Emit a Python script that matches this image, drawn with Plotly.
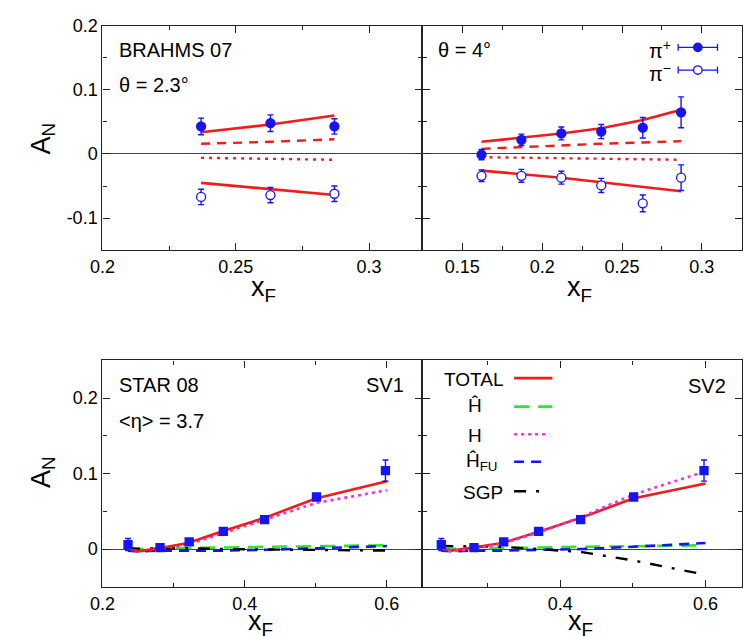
import plotly.graph_objects as go

W, H = 745, 637

# ---------------- data ----------------
# BRAHMS 07, theta = 2.3 deg
b23_x = [0.237, 0.263, 0.287]
b23_pip = [0.043, 0.048, 0.043]
b23_pip_err = [0.013, 0.013, 0.012]
b23_pim = [-0.067, -0.064, -0.062]
b23_pim_err = [0.012, 0.012, 0.012]
b23_tot_p = [0.034, 0.046, 0.060]
b23_dash = [0.016, 0.019, 0.023]
b23_dot = [-0.006, -0.0075, -0.009]
b23_tot_m = [-0.045, -0.055, -0.064]

# BRAHMS 07, theta = 4 deg
b4_x = [0.162, 0.187, 0.212, 0.237, 0.263, 0.287]
b4_pip = [-0.001, 0.022, 0.032, 0.035, 0.041, 0.065]
b4_pip_err = [0.008, 0.009, 0.010, 0.011, 0.016, 0.024]
b4_pim = [-0.034, -0.034, -0.037, -0.049, -0.077, -0.037]
b4_pim_err = [0.009, 0.010, 0.010, 0.011, 0.013, 0.020]
b4_tot_p = [0.019, 0.025, 0.032, 0.040, 0.053, 0.069]
b4_dash = [0.008, 0.011, 0.014, 0.016, 0.018, 0.020]
b4_dot = [-0.005, -0.006, -0.007, -0.0075, -0.008, -0.009]
b4_tot_m = [-0.026, -0.031, -0.037, -0.044, -0.051, -0.058]

# STAR 08, <eta> = 3.7
star_x = [0.236, 0.281, 0.322, 0.370, 0.428, 0.501, 0.598]
star_y = [0.006, 0.002, 0.0095, 0.0235, 0.039, 0.069, 0.104]
star_err = [0.008, 0.002, 0.002, 0.002, 0.002, 0.002, 0.014]

curve_x = [0.236, 0.25, 0.28, 0.32, 0.37, 0.43, 0.50, 0.60]
sv1_total = [0.0, -0.003, 0.001, 0.008, 0.024, 0.042, 0.067, 0.090]
sv1_H = [0.0, -0.003, 0.0, 0.006, 0.021, 0.039, 0.061, 0.078]
sv1_Hhat = [0.0, 0.0, 0.001, 0.001, 0.002, 0.003, 0.004, 0.005]
sv1_HFU = [-0.002, -0.003, -0.002, -0.002, -0.002, -0.001, 0.001, 0.004]
sv1_SGP = [0.001, 0.0005, 0.001, 0.001, 0.0, -0.0005, -0.001, -0.002]

sv2_total = [0.0, -0.002, 0.002, 0.008, 0.023, 0.042, 0.067, 0.087]
sv2_H = [0.0, -0.003, 0.0, 0.007, 0.022, 0.043, 0.072, 0.103]
sv2_Hhat = [0.0, 0.0, 0.001, 0.001, 0.002, 0.003, 0.004, 0.005]
sv2_HFU = [-0.002, -0.003, -0.002, -0.002, -0.001, 0.0, 0.003, 0.008]
sv2_SGP = [0.004, 0.004, 0.003, 0.003, 0.0, -0.004, -0.015, -0.034]

# ---------------- styles ----------------
RED = "#f01c1c"
BLUE = "#1414f5"
GREEN = "#2ee62e"
MAG = "#f030f0"
BLACK = "#000000"
FONT = "Liberation Sans, Arial, Helvetica, sans-serif"

STY_TOTAL = dict(color=RED, width=2.6)
STY_DASH_R = dict(color=RED, width=2.4, dash="9px,7px")
STY_DOT_R = dict(color=RED, width=2.4, dash="3px,5px")
STY_HHAT = dict(color=GREEN, width=2.6, dash="15px,9px")
STY_H = dict(color=MAG, width=2.6, dash="3px,4px")
STY_HFU = dict(color=BLUE, width=2.6, dash="10px,7px")
STY_SGP = dict(color=BLACK, width=2.4, dash="12px,10px,3px,10px")

fig = go.Figure()


def line(x, y, sty, ax):
    fig.add_trace(go.Scatter(x=x, y=y, mode="lines", line=sty,
                             xaxis=ax[0], yaxis=ax[1], showlegend=False,
                             hoverinfo="skip"))


def pts(x, y, err, ax, symbol, filled=True, size=9):
    fig.add_trace(go.Scatter(
        x=x, y=y, mode="markers",
        marker=dict(symbol=symbol, size=size,
                    color=BLUE if filled else "white",
                    line=dict(color=BLUE, width=1.3)),
        error_y=dict(type="data", array=err, color=BLUE, thickness=1.4, width=3),
        xaxis=ax[0], yaxis=ax[1], showlegend=False))


A1 = ("x", "y")
A2 = ("x2", "y2")
A3 = ("x3", "y3")
A4 = ("x4", "y4")

# top-left
line(b23_x, b23_tot_p, STY_TOTAL, A1)
line(b23_x, b23_dash, STY_DASH_R, A1)
line(b23_x, b23_dot, STY_DOT_R, A1)
line(b23_x, b23_tot_m, STY_TOTAL, A1)
pts(b23_x, b23_pip, b23_pip_err, A1, "circle", True)
pts(b23_x, b23_pim, b23_pim_err, A1, "circle", False)

# top-right
line(b4_x, b4_tot_p, STY_TOTAL, A2)
line(b4_x, b4_dash, STY_DASH_R, A2)
line(b4_x, b4_dot, STY_DOT_R, A2)
line(b4_x, b4_tot_m, STY_TOTAL, A2)
pts(b4_x, b4_pip, b4_pip_err, A2, "circle", True)
pts(b4_x, b4_pim, b4_pim_err, A2, "circle", False)

# bottom-left (SV1)
for ys, st in [(sv1_Hhat, STY_HHAT), (sv1_HFU, STY_HFU), (sv1_SGP, STY_SGP),
               (sv1_H, STY_H), (sv1_total, STY_TOTAL)]:
    line(curve_x, ys, st, A3)
pts(star_x, star_y, star_err, A3, "square", True, 8)

# bottom-right (SV2)
for ys, st in [(sv2_Hhat, STY_HHAT), (sv2_HFU, STY_HFU), (sv2_SGP, STY_SGP),
               (sv2_total, STY_TOTAL), (sv2_H, STY_H)]:
    line(curve_x, ys, st, A4)
pts(star_x, star_y, star_err, A4, "square", True, 8)


# ---------------- axes ----------------
def px_x(p):
    return p / W


def px_y(p):
    return 1 - p / H


XL = [px_x(91), px_x(416.7)]
XR = [px_x(416.7), px_x(741.7)]
YT = [px_y(244), px_y(16)]
YB = [px_y(586), px_y(356)]

common = dict(showline=True, linecolor="#222", linewidth=1.3, mirror="allticks",
              ticks="inside", ticklen=7, tickwidth=1, tickcolor="#222",
              showgrid=False, zeroline=False,
              tickfont=dict(family=FONT, size=18, color="black"),
              minor=dict(ticks="inside", ticklen=4, tickwidth=1, tickcolor="#222",
                         showgrid=False))


def xax(domain, rng, vals, anchor, minor_dtick, minor_tick0):
    d = dict(common)
    d.update(domain=domain, range=rng, tickvals=vals,
             ticktext=[("%g" % v) for v in vals], anchor=anchor)
    d["minor"] = dict(common["minor"], dtick=minor_dtick, tick0=minor_tick0)
    return d


def yax(domain, rng, vals, anchor, labels, minor_dtick):
    d = dict(common)
    d.update(domain=domain, range=rng, tickvals=vals,
             ticktext=[("%g" % v) for v in vals], anchor=anchor,
             showticklabels=labels, zeroline=True, zerolinecolor="#444",
             zerolinewidth=1)
    d["minor"] = dict(common["minor"], dtick=minor_dtick, tick0=0)
    return d


fig.update_layout(
    width=W, height=H, margin=dict(l=0, r=0, t=0, b=0),
    paper_bgcolor="white", plot_bgcolor="white", showlegend=False,
    xaxis=xax(XL, [0.2, 0.32], [0.2, 0.25, 0.3], "y", 0.025, 0.2),
    yaxis=yax(YT, [-0.15, 0.2], [-0.1, 0, 0.1, 0.2], "x", True, 0.05),
    xaxis2=xax(XR, [0.125, 0.325], [0.15, 0.2, 0.25, 0.3], "y2", 0.025, 0.125),
    yaxis2=yax(YT, [-0.15, 0.2], [-0.1, 0, 0.1, 0.2], "x2", False, 0.05),
    xaxis3=xax(XL, [0.2, 0.65], [0.2, 0.4, 0.6], "y3", 0.1, 0.2),
    yaxis3=yax(YB, [-0.05, 0.25], [0, 0.1, 0.2], "x3", True, 0.05),
    xaxis4=xax(XR, [0.21, 0.65], [0.4, 0.6], "y4", 0.1, 0.2),
    yaxis4=yax(YB, [-0.05, 0.25], [0, 0.1, 0.2], "x4", False, 0.05),
)

# ---------------- annotations ----------------
ann = []


def text(t, x, y, size, xanchor="left", angle=0):
    ann.append(dict(text=t, x=px_x(x), y=px_y(y), xref="paper", yref="paper",
                    xanchor=xanchor, yanchor="middle", showarrow=False,
                    textangle=angle, font=dict(family=FONT, size=size, color="black")))


text("BRAHMS 07", 106, 41, 20)
text("θ = 2.3°", 106, 76, 20)
text("θ = 4°", 431, 41, 20)
text("STAR 08", 106, 381, 20)
text("&lt;η&gt; = 3.7", 106, 418, 20)
text("SV1", 400, 381, 20, "right")
text("SV2", 728, 382, 20, "right")

text("A<sub>N</sub>", 30, 130, 27, "center", -90)
text("A<sub>N</sub>", 30, 469, 27, "center", -90)
for xc, yc in [(255, 283), (577, 283), (252, 623), (578, 623)]:
    text("x<sub>F</sub>", xc, yc, 27, "center")

# top-right legend (pi+ / pi-)
text("π<sup>+</sup>", 672, 40, 20, "right")
text("π<sup>−</sup>", 672, 63, 20, "right")

# bottom-right legend
text("TOTAL", 501, 375, 19, "right")
text("Ĥ", 470, 402, 19, "center")
text("H", 470, 432, 19, "center")
text("Ĥ<sub>FU</sub>", 459, 459, 19, "left")
text("SGP", 501, 490, 19, "right")

fig.update_layout(annotations=ann)

shapes = []


def seg(x0, y0, x1, y1, sty):
    shapes.append(dict(type="line", xref="paper", yref="paper",
                       x0=px_x(x0), y0=px_y(y0), x1=px_x(x1), y1=px_y(y1),
                       line=sty))


# legend samples bottom-right
seg(510, 374, 549, 374, STY_TOTAL)
seg(510, 403, 549, 403, STY_HHAT)
seg(510, 431, 546, 431, STY_H)
seg(510, 459, 538, 459, STY_HFU)
seg(510, 489, 538, 489, STY_SGP)

# legend samples top-right (point with horizontal error bar)
for yy, filled in [(38, True), (61, False)]:
    bar = dict(color=BLUE, width=1.3)
    seg(677, yy, 717, yy, bar)
    seg(677, yy - 3.5, 677, yy + 3.5, bar)
    seg(717, yy - 3.5, 717, yy + 3.5, bar)
    r = 4.3
    shapes.append(dict(type="circle", xref="paper", yref="paper",
                       x0=px_x(697 - r), x1=px_x(697 + r),
                       y0=px_y(yy + r), y1=px_y(yy - r),
                       fillcolor=BLUE if filled else "white",
                       line=dict(color=BLUE, width=1.3)))

fig.update_layout(shapes=shapes)

fig.write_html("out.html")
